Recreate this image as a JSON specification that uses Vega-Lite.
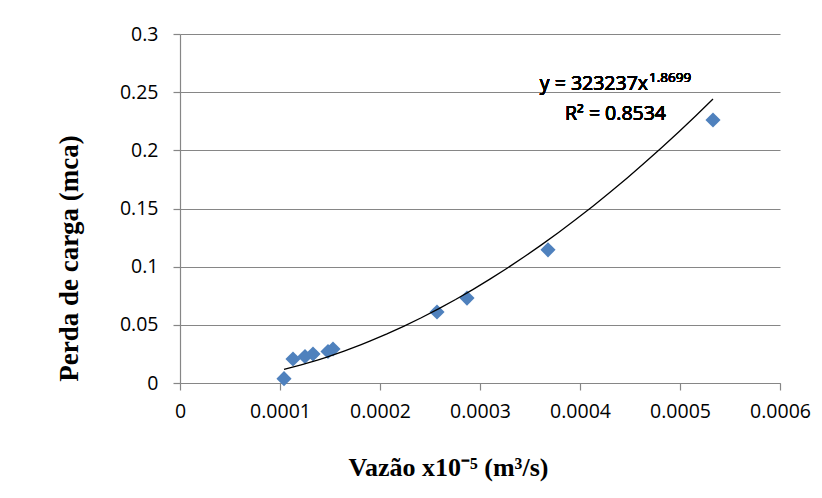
{
  "$schema": "https://vega.github.io/schema/vega-lite/v6.json",
  "width": 600,
  "height": 349,
  "autosize": {"type": "none"},
  "padding": {"left": 180, "top": 34, "right": 42, "bottom": 115},
  "background": "white",
  "config": {
    "view": {"stroke": null},
    "text": {"font": "Open Sans", "fontWeight": 400},
    "axis": {
      "labelFont": "Open Sans",
      "labelFontSize": 19.5,
      "labelFontWeight": 400,
      "labelColor": "#000000",
      "titleFont": "Liberation Serif",
      "titleFontWeight": "bold",
      "titleColor": "#000000",
      "domainColor": "#868686",
      "tickColor": "#868686",
      "gridColor": "#868686",
      "gridOpacity": 1,
      "domainWidth": 1.2,
      "tickWidth": 1.2,
      "gridWidth": 1.2,
      "tickSize": 7
    }
  },
  "datasets": {
    "pts": [
      {"vazao": 0.000104, "perda": 0.0037},
      {"vazao": 0.000113, "perda": 0.0206},
      {"vazao": 0.000125, "perda": 0.0228},
      {"vazao": 0.000133, "perda": 0.0249},
      {"vazao": 0.000148, "perda": 0.0271},
      {"vazao": 0.000153, "perda": 0.0292},
      {"vazao": 0.000257, "perda": 0.0610},
      {"vazao": 0.000287, "perda": 0.0730},
      {"vazao": 0.000368, "perda": 0.1145},
      {"vazao": 0.000533, "perda": 0.2261}
    ]
  },
  "data": {"name": "pts"},
  "layer": [
    {
      "mark": {"type": "point", "shape": "diamond", "filled": true, "size": 230, "color": "#4F81BD", "opacity": 1},
      "encoding": {
        "x": {
          "field": "vazao",
          "type": "quantitative",
          "scale": {"domain": [0, 0.0006], "nice": false, "zero": true},
          "axis": {
            "values": [0, 0.0001, 0.0002, 0.0003, 0.0004, 0.0005, 0.0006],
            "format": "~g",
            "grid": false,
            "labelPadding": 12,
            "labelFlush": false,
            "title": "Vazão x10⁻⁵ (m³/s)",
            "titleFontSize": 26,
            "titleX": 268,
            "titleY": 92,
            "titleAlign": "center",
            "titleBaseline": "alphabetic"
          }
        },
        "y": {
          "field": "perda",
          "type": "quantitative",
          "scale": {"domain": [0, 0.3], "nice": false},
          "axis": {
            "values": [0, 0.05, 0.1, 0.15, 0.2, 0.25, 0.3],
            "format": "~g",
            "grid": true,
            "labelPadding": 15,
            "labelFlush": false,
            "title": "Perda de carga (mca)",
            "titleFontSize": 27,
            "titleX": -103,
            "titleY": 224,
            "titleAlign": "center",
            "titleBaseline": "alphabetic"
          }
        }
      }
    },
    {
      "transform": [{"regression": "perda", "on": "vazao", "method": "pow"}],
      "mark": {"type": "line", "color": "#000000", "strokeWidth": 1.3},
      "encoding": {
        "x": {"field": "vazao", "type": "quantitative"},
        "y": {"field": "perda", "type": "quantitative"}
      }
    },
    {
      "mark": {"type": "text", "text": "y = 323237x", "font": "Open Sans", "fontSize": 19.5, "fontWeight": 400, "align": "right", "baseline": "alphabetic", "fill": "#000000"},
      "encoding": {"x": {"datum": 0.000468}, "y": {"datum": 0.2515}}
    },
    {
      "mark": {"type": "text", "text": "1.8699", "font": "Open Sans", "fontSize": 13.5, "fontWeight": 400, "align": "left", "baseline": "alphabetic", "fill": "#000000"},
      "encoding": {"x": {"datum": 0.000469}, "y": {"datum": 0.2585}}
    },
    {
      "mark": {"type": "text", "text": "R² = 0.8534", "font": "Open Sans", "fontSize": 19.5, "fontWeight": 400, "align": "center", "baseline": "alphabetic", "fill": "#000000"},
      "encoding": {"x": {"datum": 0.0004355}, "y": {"datum": 0.2261}}
    }
  ]
}
